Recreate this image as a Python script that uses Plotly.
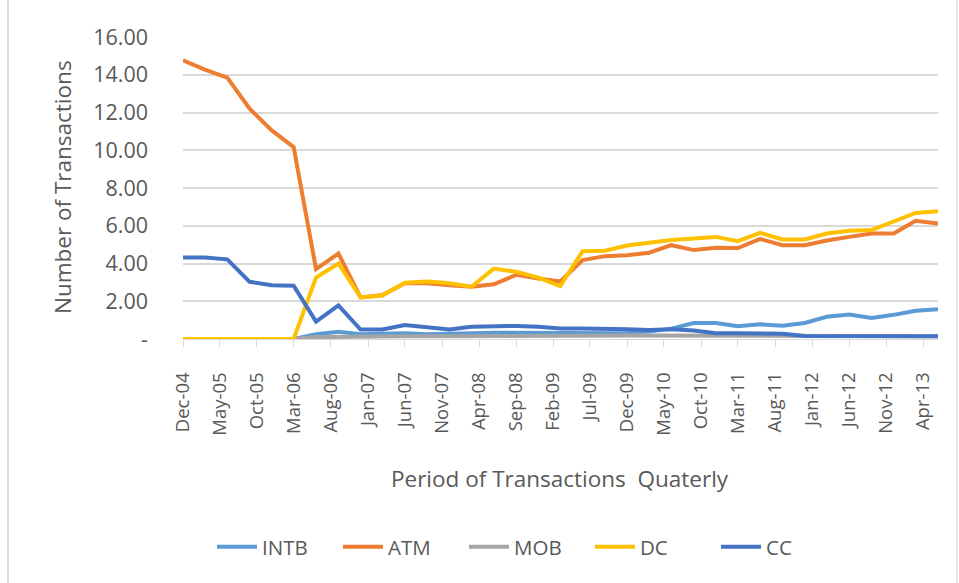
import plotly.graph_objects as go

dates = ["2004-12-01", "2005-03-01", "2005-06-01", "2005-09-01", "2005-12-01",
         "2006-03-01", "2006-06-01", "2006-09-01", "2006-12-01", "2007-03-01",
         "2007-06-01", "2007-09-01", "2007-12-01", "2008-03-01", "2008-06-01",
         "2008-09-01", "2008-12-01", "2009-03-01", "2009-06-01", "2009-09-01",
         "2009-12-01", "2010-03-01", "2010-06-01", "2010-09-01", "2010-12-01",
         "2011-03-01", "2011-06-01", "2011-09-01", "2011-12-01", "2012-03-01",
         "2012-06-01", "2012-09-01", "2012-12-01", "2013-03-01", "2013-06-01"]

intb = [0, 0, 0, 0, 0, 0, 0.25, 0.38, 0.25, 0.28,
        0.3, 0.25, 0.3, 0.3, 0.33, 0.33, 0.33, 0.3, 0.3, 0.3,
        0.3, 0.4, 0.55, 0.85, 0.85, 0.68, 0.78, 0.7, 0.85, 1.18,
        1.3, 1.12, 1.28, 1.5, 1.58]

atm = [14.76, 14.27, 13.85, 12.2, 11.05, 10.17, 3.7, 4.53, 2.2, 2.33,
       2.95, 2.95, 2.85, 2.77, 2.9, 3.4, 3.2, 3.05, 4.18, 4.39,
       4.44, 4.57, 4.97, 4.71, 4.83, 4.82, 5.3, 4.97, 4.97, 5.22,
       5.41, 5.59, 5.59, 6.26, 6.12]

mob = [0, 0, 0, 0, 0, 0, 0.1, 0.12, 0.12, 0.12,
       0.14, 0.14, 0.15, 0.15, 0.16, 0.16, 0.16, 0.17, 0.17, 0.17,
       0.18, 0.18, 0.18, 0.17, 0.16, 0.16, 0.16, 0.15, 0.15, 0.15,
       0.15, 0.15, 0.15, 0.15, 0.15]

dc = [0, 0, 0, 0, 0, 0, 3.25, 4.0, 2.2, 2.3,
      2.98, 3.05, 2.95, 2.77, 3.73, 3.56, 3.25, 2.8, 4.65, 4.68,
      4.95, 5.12, 5.25, 5.33, 5.41, 5.18, 5.62, 5.27, 5.27, 5.59,
      5.73, 5.77, 6.2, 6.68, 6.77]

cc = [4.32, 4.32, 4.22, 3.03, 2.85, 2.82, 0.92, 1.78, 0.5, 0.5,
      0.74, 0.62, 0.5, 0.65, 0.68, 0.69, 0.65, 0.56, 0.56, 0.56,
      0.52, 0.48, 0.52, 0.45, 0.3, 0.3, 0.3, 0.28, 0.16, 0.15,
      0.15, 0.15, 0.15, 0.15, 0.15]

series_names = ["INTB", "ATM", "MOB", "DC", "CC"]
series_values = [intb, atm, mob, dc, cc]
colors = ["#5B9BD5", "#ED7D31", "#A5A5A5", "#FFC000", "#4472C4"]

ytick_vals = [0, 2, 4, 6, 8, 10, 12, 14, 16]
ytick_text = ["-", "2.00", "4.00", "6.00", "8.00", "10.00", "12.00", "14.00", "16.00"]

FONT = "Open Sans"
TXT = "#595959"

L, R, T, B = 183, 21, 37, 244
PW = 959 - L - R
PH = 583 - T - B

fig = go.Figure()
for name, vals, col in zip(series_names, series_values, colors):
    fig.add_trace(go.Scatter(x=dates, y=vals, name=name, mode="lines",
                             line=dict(color=col, width=4)))

fig.update_layout(
    width=959, height=583,
    margin=dict(l=L, r=R, t=T, b=B, autoexpand=False),
    paper_bgcolor="white", plot_bgcolor="white",
    font=dict(family=FONT, size=20, color=TXT),
    showlegend=True,
    legend=dict(orientation="h", x=(212 - L) / PW, xanchor="left",
                y=(339 - 547) / PH, yanchor="middle",
                font=dict(size=20.5, color=TXT), itemwidth=40,
                entrywidth=71, traceorder="normal"),
    xaxis=dict(type="date", range=["2004-12-01", "2013-06-01"],
               tick0="2004-12-01", dtick="M5", tickformat="%b-%y",
               tickangle=-90, ticks="outside", ticklen=7, tickcolor="#D9D9D9",
               showline=True, linecolor="#D9D9D9", linewidth=1,
               showgrid=False, zeroline=False, ticklabelstandoff=18,
               tickfont=dict(size=18.5, color=TXT)),
    yaxis=dict(range=[0, 16], tickvals=ytick_vals, ticktext=ytick_text,
               showgrid=True, gridcolor="#D9D9D9", gridwidth=1.5,
               zeroline=False, showline=False, ticks="",
               ticklabelstandoff=34, tickfont=dict(size=21.5, color=TXT)),
    annotations=[
        dict(text="Period of Transactions \u00a0Quaterly", xref="paper", yref="paper",
             x=(560 - L) / PW, y=(339 - 478) / PH, xanchor="center", yanchor="middle",
             showarrow=False, font=dict(size=22.5, color=TXT)),
        dict(text="Number of Transactions", xref="paper", yref="paper",
             x=(62 - L) / PW, y=(339 - 187) / PH, xanchor="center", yanchor="middle",
             textangle=-90, showarrow=False, font=dict(size=22.5, color=TXT)),
    ],
    shapes=[
        dict(type="line", xref="paper", yref="paper",
             x0=(8 - L) / PW, x1=(8 - L) / PW, y0=-1.0, y1=1.2,
             line=dict(color="#D9D9D9", width=2)),
        dict(type="line", xref="paper", yref="paper",
             x0=(957 - L) / PW, x1=(957 - L) / PW, y0=-1.0, y1=1.2,
             line=dict(color="#E5E5E5", width=2)),
    ],
)

fig.write_html("out.html", config={"displayModeBar": False},
               post_script="document.body.style.margin='0';document.body.style.overflow='hidden';")
